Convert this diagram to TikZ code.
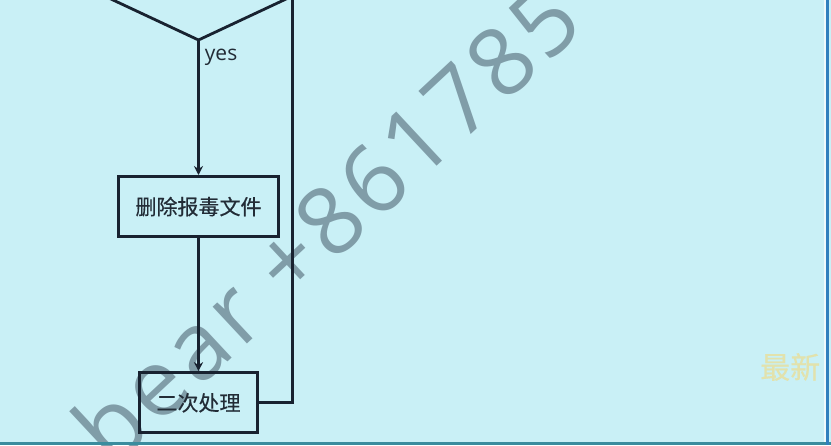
\documentclass[tikz,border=0pt]{standalone}
\usepackage{fontspec}
\setmainfont{Open Sans}
\newfontfamily\cjk[FakeBold=0.4]{Noto Sans CJK SC}
\newfontfamily\markfont[LetterSpace=5]{Open Sans}
\usetikzlibrary{arrows.meta,positioning,shapes.geometric}
\definecolor{bgcyan}{RGB}{201,240,246}
\definecolor{inkline}{RGB}{24,34,48}
\definecolor{inktext}{RGB}{34,44,54}
\definecolor{marktext}{RGB}{128,157,168}
\definecolor{markyellow}{RGB}{226,226,172}
\definecolor{edgeteal}{RGB}{58,140,158}
\definecolor{edgeblue}{RGB}{48,128,190}

\begin{document}
\begin{tikzpicture}[
  x=1pt, y=-1pt,
  font=\cjk\fontsize{21}{24}\selectfont,
  node distance=135pt,
  box/.style={draw=inkline, line width=3.2pt, align=center, minimum height=60pt,
              inner sep=0pt, text=inktext},
  dec/.style={diamond, draw=inkline, line width=2.8pt, minimum width=188pt,
              minimum height=88pt, inner sep=0pt, outer sep=0pt},
  link/.style={line width=2.8pt, draw=inkline},
  arr/.style={link, -{Stealth[length=9pt,width=9pt]}}
]
\useasboundingbox (0,0) rectangle (831,445);
\fill[bgcyan] (0,0) rectangle (831,445);

% watermark under the chart
\node[rotate=43, anchor=base west, inner sep=0pt, text=marktext,
      font=\markfont\fontsize{94}{94}\selectfont] (mark) at (112,470) {bear +861785};
\node[anchor=west, inner sep=0pt, text=markyellow,
      font=\cjk\fontsize{30}{30}\selectfont] (tag) at (760,367) {最新};

% chart
\node[dec] (check) at (198.5,-4) {};
\node[box, minimum width=160pt, below=of check] (del) {删除报毒文件};
\node[box, minimum width=118pt, below=133pt of del] (redo) {二次处理};

\draw[arr] (check.south) -- node[right, pos=0.13, inner sep=5pt, text=inktext,
  font=\rmfamily\fontsize{21}{22}\selectfont] {yes} (del.north);
\draw[arr] (del.south) -- (redo.north);
\draw[link] (check.east) |- (redo.east);

% screen edges
\fill[edgeteal] (0,442) rectangle (831,445);
\fill[white!70!bgcyan] (824,0) rectangle (826,442);
\fill[edgeblue] (826,0) rectangle (829,445);
\end{tikzpicture}
\end{document}
